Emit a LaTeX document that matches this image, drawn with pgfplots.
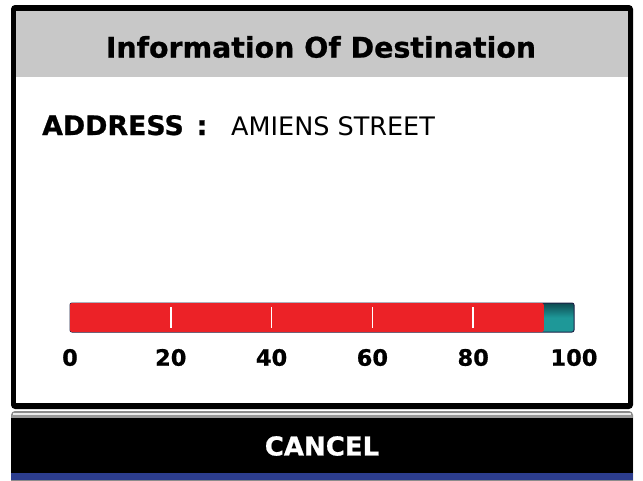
\documentclass[border=0pt]{standalone}
\usepackage{pgfplots}
\pgfplotsset{compat=1.18}
\usepackage{fontspec}
\setmainfont{DejaVu Sans}
\newfontfamily\heavy{DejaVu Sans Bold}[FakeBold=0.8]
\definecolor{hdr}{HTML}{C8C8C8}
\definecolor{barred}{HTML}{EC2227}
\definecolor{barteal}{HTML}{1E9898}
\definecolor{tealdark}{HTML}{0E4A50}
\definecolor{navy}{HTML}{1B2246}
\definecolor{bluestrip}{HTML}{2C3D8E}
\begin{document}
\begin{tikzpicture}
\begin{scope}[x=1pt,y=-1pt]
\fill[white] (0,0) rectangle (643,480);
% dialog frame
\fill[black, rounded corners=4pt] (11,5) rectangle (633,409);
\fill[white] (16,11) rectangle (628,403);
\fill[hdr] (16,11) rectangle (628,77);
\node[font=\fontsize{28.4}{32}\heavy] at (321,47) {Information Of Destination};
\node[anchor=base west, inner sep=0pt, font=\fontsize{26.8}{30}\heavy] at (42,135) {ADDRESS\hspace{13pt}:};
\node[anchor=base west, inner sep=0pt, font=\fontsize{25.5}{30}\selectfont] at (231,135) {AMIENS STREET};
% cancel button
\fill[black!45, rounded corners=4pt] (11,411) rectangle (633,490);
\fill[black!8] (13,413) rectangle (631,415);
\fill[black!40] (12,415) rectangle (632,418);
\fill[black] (11,418) rectangle (633,480);
\fill[bluestrip] (11,473) rectangle (633,480);
\node[white, font=\fontsize{26}{30}\heavy] at (322,446) {CANCEL};
\end{scope}
\begin{axis}[at={(70pt,-332pt)}, anchor=south west, scale only axis,
  width=504pt, height=29pt, xmin=0, xmax=100, ymin=0, ymax=1,
  axis line style={draw=none}, xtick={0,20,40,60,80,100}, ytick=\empty,
  major tick length=0pt,
  xticklabel style={font=\fontsize{22.5}{24}\heavy, anchor=center, yshift=-25.5pt},
  /pgf/number format/assume math mode=true, clip=false]
\addplot[xbar, bar width=29pt, top color=tealdark, bottom color=barteal, middle color=barteal, draw=navy, line width=1pt, rounded corners=2pt] coordinates {(100,0.5)};
\addplot[xbar, bar width=29pt, fill=barred, draw=none, rounded corners=2pt] coordinates {(94,0.5)};
\addplot[white, line width=1.5pt] coordinates {(20,0.14) (20,0.86)};
\addplot[white, line width=1.5pt] coordinates {(40,0.14) (40,0.86)};
\addplot[white, line width=1.5pt] coordinates {(60,0.14) (60,0.86)};
\addplot[white, line width=1.5pt] coordinates {(80,0.14) (80,0.86)};
\end{axis}
\pgfresetboundingbox
\path[use as bounding box] (0,0) rectangle (643pt,-480pt);
\end{tikzpicture}
\end{document}
